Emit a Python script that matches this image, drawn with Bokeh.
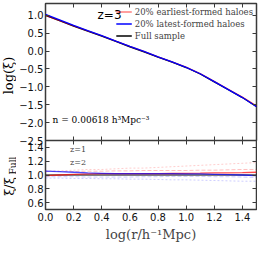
import numpy as np
from bokeh.plotting import figure
from bokeh.models import Range1d, LinearAxis, FixedTicker, Label, Legend, LegendItem
from bokeh.layouts import column, row
from bokeh.embed import file_html
from bokeh.resources import INLINE
from bokeh.core.properties import value

# ---- data ----
log_r = [0.0, 0.1, 0.2, 0.3, 0.4, 0.5, 0.6, 0.7, 0.8, 0.9, 1.0, 1.1, 1.2, 1.3, 1.4, 1.5]
log_xi_full = [1.00, 0.85, 0.70, 0.56, 0.42, 0.27, 0.12, -0.02, -0.17, -0.31,
               -0.46, -0.64, -0.86, -1.08, -1.30, -1.55]
# ratios xi / xi_Full  (z = 3, solid)
ratio_early_z3 = [0.99, 1.00, 1.01, 1.015, 1.02, 1.02, 1.02, 1.02, 1.02, 1.022,
                  1.025, 1.027, 1.03, 1.032, 1.035, 1.04]
ratio_late_z3 = [1.055, 1.05, 1.04, 1.03, 1.025, 1.02, 1.02, 1.02, 1.02, 1.02,
                 1.015, 1.015, 1.01, 1.005, 1.00, 0.99]
ratio_full = [1.0] * 16
# z = 1 (dashed, faint)
ratio_early_z1 = [1.05, 1.05, 1.05, 1.055, 1.055, 1.06, 1.06, 1.065, 1.065, 1.065,
                  1.065, 1.07, 1.07, 1.075, 1.08, 1.08]
ratio_late_z1 = [0.975, 0.975, 0.975, 0.97, 0.97, 0.97, 0.97, 0.975, 0.975, 0.98,
                 0.98, 0.98, 0.975, 0.975, 0.97, 0.965]
# z = 2 (dotted, faint)
ratio_early_z2 = [1.06, 1.06, 1.07, 1.08, 1.08, 1.09, 1.10, 1.10, 1.11, 1.12,
                  1.13, 1.14, 1.15, 1.16, 1.17, 1.18]
ratio_late_z2 = [0.955, 0.955, 0.95, 0.95, 0.945, 0.945, 0.94, 0.94, 0.935, 0.93,
                 0.93, 0.925, 0.92, 0.915, 0.91, 0.91]

x_ticks = [0.0, 0.2, 0.4, 0.6, 0.8, 1.0, 1.2, 1.4]
x_tick_labels = ["0.0", "0.2", "0.4", "0.6", "0.8", "1.0", "1.2", "1.4"]
top_y_ticks = [-2.5, -2.0, -1.5, -1.0, -0.5, 0.0, 0.5, 1.0]
top_y_tick_labels = ["\u22122.5", "\u22122.0", "\u22121.5", "\u22121.0", "\u22120.5", "0.0", "0.5", "1.0"]
bot_y_ticks = [0.6, 0.8, 1.0, 1.2, 1.4]
bot_y_tick_labels = ["0.6", "0.8", "1.0", "1.2", "1.4"]

legend_labels = ["20% earliest-formed haloes", "20% latest-formed haloes", "Full sample"]

r = np.array(log_r)
xi_full = np.array(log_xi_full)
xi_early = xi_full + np.log10(np.array(ratio_early_z3))
xi_late = xi_full + np.log10(np.array(ratio_late_z3))

SERIF = "DejaVu Serif"
SANS = "DejaVu Sans"
FW = 211
LEFT = 28          # room for tick labels
LAB_W = 16         # strip holding the rotated y titles
TOP_H = 137
BOT_H = 69
TOP_PAD = 3
GAP = 7
EDGE = "#3a3a3a"


def base_axis(ax):
    ax.axis_line_color = None
    ax.major_tick_in = 4
    ax.major_tick_out = 0
    ax.minor_tick_line_color = None
    ax.major_tick_line_color = EDGE
    ax.major_label_text_font = SANS
    ax.major_label_text_font_size = "10px"
    ax.major_label_text_color = "#111111"
    ax.major_label_standoff = 2
    ax.axis_label_text_font = SERIF
    ax.axis_label_text_font_style = "normal"
    ax.axis_label_text_font_size = "13px"
    ax.axis_label_standoff = 3


def hide_labels(ax):
    ax.major_label_text_font_size = "0px"
    ax.major_label_text_color = None
    ax.major_label_standoff = 0


def style(p, yticks, ylabels, xlabels_on):
    p.grid.visible = False
    p.outline_line_color = EDGE
    p.outline_line_width = 1.5
    xb = p.below[0]
    yl = p.left[0]
    base_axis(xb)
    base_axis(yl)
    xb.ticker = FixedTicker(ticks=x_ticks)
    xb.major_label_overrides = dict(zip(x_ticks, x_tick_labels))
    yl.ticker = FixedTicker(ticks=yticks)
    yl.major_label_overrides = dict(zip(yticks, ylabels))
    if not xlabels_on:
        hide_labels(xb)
    ax_r = LinearAxis(ticker=FixedTicker(ticks=yticks))
    ax_t = LinearAxis(ticker=FixedTicker(ticks=x_ticks))
    for ax in (ax_r, ax_t):
        base_axis(ax)
        hide_labels(ax)
    p.add_layout(ax_r, "right")
    p.add_layout(ax_t, "above")
    return xb, yl


# ---------------- top panel ----------------
top = figure(frame_width=FW, frame_height=TOP_H, x_range=Range1d(0, 1.5),
             y_range=Range1d(-2.5, 1.33), output_backend="svg", toolbar_location=None,
             min_border_left=LEFT, min_border_right=2, min_border_top=TOP_PAD,
             min_border_bottom=GAP)
style(top, top_y_ticks, top_y_tick_labels, False)

r_full = top.line(r, xi_full, line_color="black", line_width=1.3)
r_early = top.line(r, xi_early, line_color="red", line_alpha=0.5, line_width=1.3)
r_late = top.line(r, xi_late, line_color="blue", line_width=1.3)

leg = Legend(items=[LegendItem(label=legend_labels[0], renderers=[r_early]),
                    LegendItem(label=legend_labels[1], renderers=[r_late]),
                    LegendItem(label=legend_labels[2], renderers=[r_full])],
             location="top_right", border_line_color=None, background_fill_alpha=0,
             label_text_font=SERIF, label_text_font_size="8.5px", glyph_width=16,
             glyph_height=11, label_height=11, spacing=1, padding=4, margin=3,
             label_standoff=3)
top.add_layout(leg)

top.add_layout(Label(x=0.37, y=0.80, text="z=3", text_font=SANS, text_font_size="12px",
                     text_color="black"))
top.add_layout(Label(x=0.05, y=-2.08, text="n = 0.00618 h\u00b3Mpc\u207b\u00b3",
                     text_font=SERIF, text_font_size="9px", text_color="black"))

# ---------------- bottom panel ----------------
bot = figure(frame_width=FW, frame_height=BOT_H, x_range=top.x_range,
             y_range=Range1d(0.5, 1.5), output_backend="svg", toolbar_location=None,
             min_border_left=LEFT, min_border_right=2, min_border_top=0, min_border_bottom=2)
bxb, byl = style(bot, bot_y_ticks, bot_y_tick_labels, True)
bxb.axis_label = "log(r/h\u207b\u00b9Mpc)"
bxb.major_label_standoff = 3
bot.border_fill_alpha = 0
bot.margin = (-GAP, 0, 0, 0)

bot.line(r, ratio_early_z1, line_color="red", line_alpha=0.25, line_dash="4 2", line_width=1)
bot.line(r, ratio_late_z1, line_color="blue", line_alpha=0.2, line_dash="4 2", line_width=1)
bot.line(r, ratio_early_z2, line_color="red", line_alpha=0.2, line_dash="2 2", line_width=1)
bot.line(r, ratio_late_z2, line_color="blue", line_alpha=0.2, line_dash="2 2", line_width=1)
bot.line(r, ratio_full, line_color="black", line_width=1.2)
bot.line(r, ratio_early_z3, line_color="red", line_alpha=0.7, line_width=1.3)
bot.line(r, ratio_late_z3, line_color="blue", line_alpha=0.7, line_width=1.3)

lz1 = bot.line([], [], line_color="#bbbbbb", line_dash="4 2", line_width=1)
lz2 = bot.line([], [], line_color="#999999", line_dash="2 2", line_width=1)
leg2 = Legend(items=[LegendItem(label="z=1", renderers=[lz1]),
                     LegendItem(label="z=2", renderers=[lz2])],
              location="top_left", border_line_color=None, background_fill_alpha=0,
              label_text_font=SERIF, label_text_font_size="8px", glyph_width=20,
              glyph_height=12, label_height=12, spacing=1, padding=3, margin=3,
              label_standoff=2)
bot.add_layout(leg2)

# ---------------- strip with the rotated y-axis titles ----------------
STRIP_H = 246
lab = figure(frame_width=LAB_W, frame_height=STRIP_H, x_range=Range1d(0, LAB_W),
             y_range=Range1d(0, STRIP_H), x_axis_location=None, y_axis_location=None,
             output_backend="svg", toolbar_location=None, min_border=0)
lab.grid.visible = False
lab.outline_line_color = None


def px_from_top(v):
    return STRIP_H - v


top_frame_top = TOP_PAD
bot_frame_top = TOP_PAD + TOP_H
lab.text(x=[8], y=[px_from_top(top_frame_top + 72)], text=["log(\u03be)"], angle=np.pi / 2,
         text_font=value(SERIF), text_font_size="13px", text_align="center",
         text_baseline="middle", text_color="black")
lab.text(x=[8.5], y=[px_from_top(bot_frame_top + 46)], text=["\u03be/\u03be"], angle=np.pi / 2,
         text_font=value(SERIF), text_font_size="13px", text_align="center",
         text_baseline="middle", text_color="black")
lab.text(x=[12.5], y=[px_from_top(bot_frame_top + 25)], text=["Full"], angle=np.pi / 2,
         text_font=value(SERIF), text_font_size="9px", text_align="center",
         text_baseline="middle", text_color="black")

layout = row(lab, column(top, bot, spacing=0), spacing=0)
open("out.html", "w").write(file_html(layout, INLINE))
